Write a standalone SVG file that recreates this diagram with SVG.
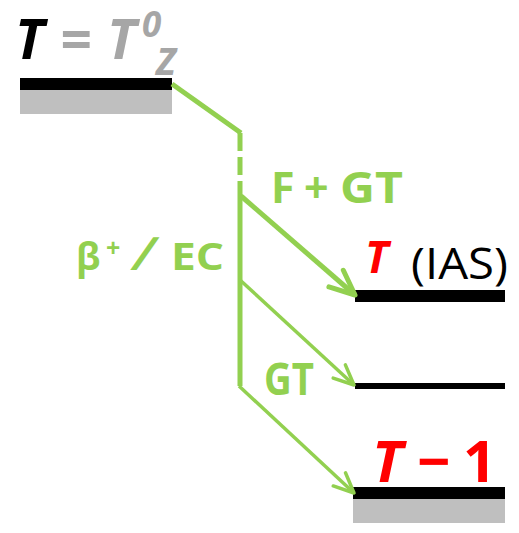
<svg xmlns="http://www.w3.org/2000/svg" width="519" height="533" viewBox="0 0 519 533">
<style>
.t{font-family:"Open Sans","Liberation Sans",sans-serif;font-weight:bold}
.g{fill:#92D050}
.bl{fill:#000}
.gr{fill:#BFBFBF}
.c{fill:none;stroke:#92D050;stroke-linejoin:round}
</style>
<defs>
<marker id="ah" markerUnits="userSpaceOnUse" viewBox="-30 -15 34 30" refX="0" refY="0" markerWidth="34" markerHeight="30" orient="auto" overflow="visible">
<path d="M-25,-11 L0,0 L-25,11" fill="none" stroke="#92D050" stroke-width="5" stroke-linecap="round" stroke-linejoin="round"/>
</marker>
<marker id="ah2" markerUnits="userSpaceOnUse" viewBox="-30 -15 34 30" refX="0" refY="0" markerWidth="34" markerHeight="30" orient="auto" overflow="visible">
<path d="M-20,-9 L0,0 L-20,9" fill="none" stroke="#92D050" stroke-width="3.5" stroke-linecap="round" stroke-linejoin="round"/>
</marker>
</defs>
<g id="parent">
<rect class="bl" x="20" y="78" width="152" height="12"/>
<rect class="gr" x="20" y="90" width="152" height="24"/>
<text class="t" y="59" font-size="55" font-style="italic"><tspan x="15" fill="#000">T</tspan><tspan x="60" fill="#A6A6A6">=</tspan><tspan x="107" fill="#A6A6A6">T</tspan></text>
<text class="t" x="142" y="37" font-size="35" font-style="italic" fill="#A6A6A6">0</text>
<text class="t" x="156" y="75" font-size="37" font-style="italic" fill="#A6A6A6">Z</text>
</g>
<g id="ias">
<rect class="bl" x="355" y="290" width="150" height="12"/>
<text class="t" x="365" y="273" font-size="44" font-style="italic" fill="#FF0000">T</text>
<text x="411" y="279" font-family="'Open Sans','Liberation Sans',sans-serif" font-size="44" textLength="97" lengthAdjust="spacingAndGlyphs" fill="#000">(IAS)</text>
</g>
<g id="gtstate">
<rect class="bl" x="355" y="383" width="150" height="6"/>
</g>
<g id="daughter">
<rect class="bl" x="353" y="487" width="152" height="12"/>
<rect class="gr" x="353" y="499" width="152" height="24"/>
<text class="t" y="482" font-size="58" fill="#FF0000"><tspan x="372" font-style="italic">T</tspan><tspan x="417">−</tspan><tspan x="463">1</tspan></text>
</g>
<g id="labels">
<text class="t g" y="203" font-size="43"><tspan x="271">F</tspan><tspan x="304">+</tspan><tspan x="340" textLength="63" lengthAdjust="spacingAndGlyphs">GT</tspan></text>
<text class="t g" y="270" font-size="37"><tspan x="76">β</tspan><tspan x="106" font-size="25" dy="-13">+</tspan><tspan x="171" dy="13" textLength="53" lengthAdjust="spacingAndGlyphs">EC</tspan></text>
<text class="t g" transform="translate(138,270) skewX(-18)" x="-8" y="0" font-size="46">/</text>
<text class="t g" x="264" y="395" font-size="44" textLength="50" lengthAdjust="spacingAndGlyphs">GT</text>
</g>
<g id="connectors">
<path class="c" d="M172,84 L241,133" stroke-width="5"/>
<path class="c" d="M240,133 L240,199" stroke-width="5" stroke-dasharray="18 6"/>
<path class="c" d="M240,199 L240,386" stroke-width="5"/>
<path class="c" d="M241,196 L355,295" stroke-width="5" marker-end="url(#ah)"/>
<path class="c" d="M240,280 L354,385" stroke-width="3.5" marker-end="url(#ah2)"/>
<path class="c" d="M239,386 L354,493" stroke-width="3.5" marker-end="url(#ah2)"/>
</g>
</svg>
